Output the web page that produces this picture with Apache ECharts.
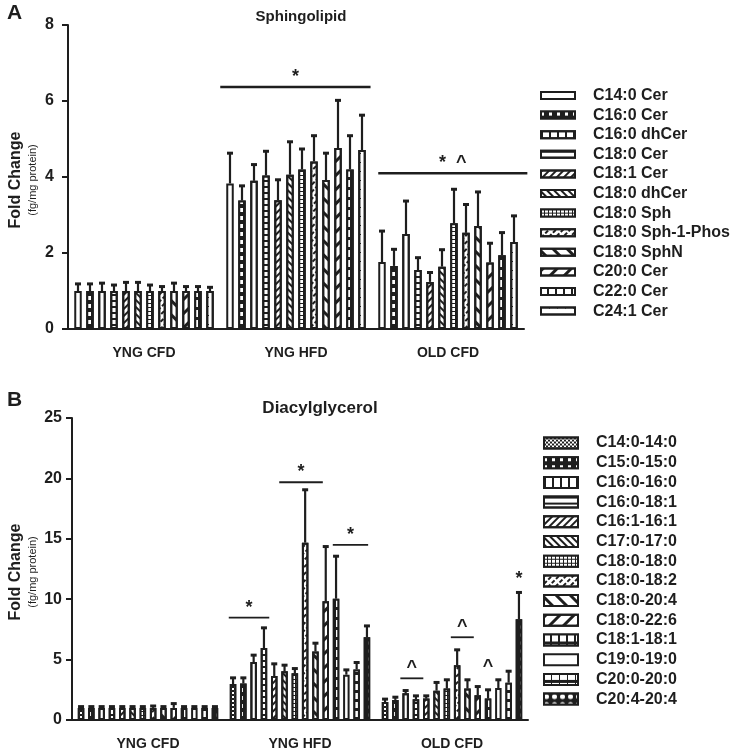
<!DOCTYPE html>
<html>
<head>
<meta charset="utf-8">
<script src="https://cdn.jsdelivr.net/npm/echarts@6/dist/echarts.min.js"></script>
<style>
  html, body { margin: 0; padding: 0; background: #fff; }
  #chart { width: 734px; height: 753px; }
</style>
</head>
<body>
<div id="chart"></div>
<script>
// groups on the x axis
const groups = ['YNG CFD', 'YNG HFD', 'OLD CFD'];

// panel A - sphingolipids
const sphNames = ['C14:0 Cer', 'C16:0 Cer', 'C16:0 dhCer', 'C18:0 Cer', 'C18:1 Cer', 'C18:0 dhCer',
  'C18:0 Sph', 'C18:0 Sph-1-Phos', 'C18:0 SphN', 'C20:0 Cer', 'C22:0 Cer', 'C24:1 Cer'];
const sphPatterns = ['plain', 'boxes', 'vline', 'ladder', 'diagR', 'diagL',
  'grid', 'dashR', 'wideL', 'wideR', 'bigBoxes', 'dots'];
const aCfdMean = [1, 1, 1, 1, 1, 1, 1, 1, 1, 1, 1, 1];
const aCfdErr = [0.20, 0.20, 0.22, 0.17, 0.24, 0.24, 0.17, 0.13, 0.22, 0.13, 0.13, 0.11];
const aHfdMean = [3.83, 3.38, 3.90, 4.04, 3.39, 4.06, 4.20, 4.41, 3.92, 4.76, 4.20, 4.71];
const aHfdErr = [0.81, 0.40, 0.44, 0.65, 0.55, 0.88, 0.55, 0.69, 0.72, 1.27, 0.90, 0.93];
const aOldMean = [1.76, 1.66, 2.50, 1.55, 1.24, 1.64, 2.78, 2.53, 2.71, 1.75, 1.94, 2.29];
const aOldErr = [0.83, 0.45, 0.88, 0.34, 0.26, 0.46, 0.91, 0.76, 0.91, 0.52, 0.61, 0.70];
// [group, from bar, to bar, y, has line]
const aSig = [[1, -0.5, 11.4, 6.37, 1], [2, 0, 11.8, 4.10, 1]];
const aSigText = ['*', '*  ^'];

// panel B - diacylglycerols
const dagNames = ['C14:0-14:0', 'C15:0-15:0', 'C16:0-16:0', 'C16:0-18:1', 'C16:1-16:1', 'C17:0-17:0',
  'C18:0-18:0', 'C18:0-18:2', 'C18:0-20:4', 'C18:0-22:6', 'C18:1-18:1', 'C19:0-19:0', 'C20:0-20:0', 'C20:4-20:4'];
const dagPatterns = ['checker', 'boxes', 'vline', 'ladder', 'diagR', 'diagL',
  'grid', 'dashR', 'wideL', 'wideR', 'bigBoxes', 'plain', 'bigBoxes2', 'diamonds'];
const bCfdMean = [1, 1, 1, 1, 1, 1, 1, 1, 1, 1, 1, 1, 1, 1];
const bCfdErr = [0.15, 0.15, 0.15, 0.15, 0.15, 0.15, 0.15, 0.2, 0.15, 0.4, 0.15, 0.15, 0.15, 0.15];
const bHfdMean = [2.98, 3.03, 4.80, 5.96, 3.64, 4.03, 3.86, 14.68, 5.68, 9.82, 10.04, 3.75, 4.19, 6.84];
const bHfdErr = [0.55, 0.50, 0.61, 1.71, 1.05, 0.55, 0.44, 4.42, 0.72, 4.58, 3.56, 0.44, 0.61, 0.99];
const bOldMean = [1.49, 1.66, 2.21, 1.71, 1.77, 2.43, 2.60, 4.53, 2.60, 2.04, 1.77, 2.65, 3.09, 8.34];
const bOldErr = [0.28, 0.27, 0.27, 0.33, 0.27, 0.72, 0.77, 1.32, 0.77, 0.77, 0.77, 0.72, 0.99, 2.26];
const bSig = [[1, -0.1, 3.2, 8.47, 1], [1, 4.8, 8.4, 19.68, 1], [1, 10, 12.8, 14.49, 1],
  [2, 1.8, 3.4, 3.45, 1], [2, 6.7, 8.3, 6.85, 1], [2, 10, 10, 4.3, 0], [2, 13, 13, 11.6, 0]];
const bSigText = ['*', '*', '*', '^', '^', '^', '*'];

const INK = '#1e1e1e';
const FONT = 'Liberation Sans, Arial, sans-serif';

// fill patterns (bar colour + decal)
const patterns = {
  plain: { color: '#fff' },
  boxes: { color: INK, decal: { color: '#fff', dashArrayX: [[3, 5]], dashArrayY: [4, 4] } },
  vline: { color: '#fff', decal: { color: INK, dashArrayX: [[2, 6]], dashArrayY: [1, 0] } },
  ladder: { color: '#fff', decal: { color: INK, dashArrayX: [[1, 0]], dashArrayY: [2, 4] } },
  diagR: { color: '#fff', decal: { color: INK, dashArrayX: [[1, 0]], dashArrayY: [2, 3], rotation: -Math.PI / 4 } },
  diagL: { color: '#fff', decal: { color: INK, dashArrayX: [[1, 0]], dashArrayY: [2, 3], rotation: Math.PI / 4 } },
  grid: { color: INK, decal: { color: '#fff', dashArrayX: [[3, 1]], dashArrayY: [3, 1] } },
  dashR: { color: '#fff', decal: { color: INK, dashArrayX: [[4, 2]], dashArrayY: [2, 3], rotation: -Math.PI / 4 } },
  wideL: { color: '#fff', decal: { color: INK, dashArrayX: [[1, 0]], dashArrayY: [3, 7], rotation: Math.PI / 4 } },
  wideR: { color: '#fff', decal: { color: INK, dashArrayX: [[1, 0]], dashArrayY: [3, 7], rotation: -Math.PI / 4 } },
  bigBoxes: { color: INK, decal: { color: '#fff', dashArrayX: [[6, 2]], dashArrayY: [7, 3] } },
  bigBoxes2: { color: INK, decal: { color: '#fff', dashArrayX: [[7, 1]], dashArrayY: [6, 3] } },
  dots: { color: '#fff', decal: { color: INK, dashArrayX: [[1, 7]], dashArrayY: [1, 8] } },
  checker: { color: '#fff', decal: { color: INK, dashArrayX: [[2, 2], [0, 2, 2, 0]], dashArrayY: [2, 0] } },
  diamonds: { color: INK, decal: { color: '#fff', symbol: 'circle', dashArrayX: [[5, 3]], dashArrayY: [6, 2] } }
};

const panelA = { names: sphNames, pats: sphPatterns, means: [aCfdMean, aHfdMean, aOldMean],
  errs: [aCfdErr, aHfdErr, aOldErr], sig: aSig, sigText: aSigText, barWidth: 7.5, pitch: 12, idx: 0 };
const panelB = { names: dagNames, pats: dagPatterns, means: [bCfdMean, bHfdMean, bOldMean],
  errs: [bCfdErr, bHfdErr, bOldErr], sig: bSig, sigText: bSigText, barWidth: 6.5, pitch: 10.3, idx: 1 };

function barOffset(panel, i) {
  return (i - (panel.names.length - 1) / 2) * panel.pitch;
}

function buildSeries(panel) {
  const out = [];
  const gap = (panel.pitch - panel.barWidth) / panel.barWidth;
  panel.names.forEach((name, i) => {
    const p = patterns[panel.pats[i]];
    out.push({
      name: name,
      type: 'bar',
      xAxisIndex: panel.idx,
      yAxisIndex: panel.idx,
      barWidth: panel.barWidth,
      barGap: (gap * 100) + '%',
      data: panel.means.map(m => m[i]),
      itemStyle: { color: p.color, borderColor: INK, borderWidth: 2, decal: p.decal || null },
      emphasis: { disabled: true },
      z: 2
    });
  });
  // error bars (upper only)
  const errData = [];
  panel.names.forEach((name, i) => {
    panel.means.forEach((m, g) => errData.push([g, m[i], panel.errs[g][i], i]));
  });
  out.push({
    type: 'custom',
    xAxisIndex: panel.idx,
    yAxisIndex: panel.idx,
    data: errData,
    encode: { x: 0, y: 1 },
    z: 5,
    renderItem: (params, api) => {
      const g = api.value(0), m = api.value(1), e = api.value(2), i = api.value(3);
      const base = api.coord([g, m]);
      const top = api.coord([g, m + e]);
      const x = base[0] + barOffset(panel, i);
      return {
        type: 'group',
        children: [
          { type: 'line', shape: { x1: x, y1: base[1], x2: x, y2: top[1] }, style: { stroke: INK, lineWidth: 2.2 } },
          { type: 'line', shape: { x1: x - 3, y1: top[1] + 0.5, x2: x + 3, y2: top[1] + 0.5 }, style: { stroke: INK, lineWidth: 3 } }
        ]
      };
    }
  });
  // significance markers
  out.push({
    type: 'custom',
    xAxisIndex: panel.idx,
    yAxisIndex: panel.idx,
    data: panel.sig,
    encode: { x: 0, y: 3 },
    z: 6,
    renderItem: (params, api) => {
      const g = api.value(0), a = api.value(1), b = api.value(2), y = api.value(3), hasLine = api.value(4);
      const c = api.coord([g, y]);
      const x1 = c[0] + barOffset(panel, a) - panel.barWidth / 2;
      const x2 = c[0] + barOffset(panel, b) + panel.barWidth / 2;
      const txt = panel.sigText[params.dataIndex];
      const children = [{
        type: 'text',
        style: { x: (x1 + x2) / 2, y: hasLine ? c[1] - 1 : c[1] + 8, text: txt, fill: INK,
          font: 'bold 18px ' + FONT, textAlign: 'center', textVerticalAlign: 'bottom' }
      }];
      if (hasLine) {
        children.push({ type: 'line', shape: { x1: x1, y1: c[1], x2: x2, y2: c[1] },
          style: { stroke: INK, lineWidth: panel.idx === 0 ? 2.5 : 1.8 } });
      }
      return { type: 'group', children: children };
    }
  });
  return out;
}

function xAxisFor(idx) {
  return {
    type: 'category', gridIndex: idx, data: groups,
    axisLine: { lineStyle: { color: INK, width: 2 } },
    axisTick: { alignWithLabel: true, length: 7, lineStyle: { color: INK, width: 2 } },
    axisLabel: { color: INK, fontWeight: 'bold', fontSize: 14, fontFamily: FONT, margin: 17 }
  };
}
function yAxisFor(idx, max, interval, margin) {
  return {
    type: 'value', gridIndex: idx, min: 0, max: max, interval: interval,
    axisLine: { show: true, lineStyle: { color: INK, width: 2 } },
    axisTick: { show: true, length: 6, lineStyle: { color: INK, width: 2 } },
    axisLabel: { color: INK, fontWeight: 'bold', fontSize: 16, fontFamily: FONT, margin: margin },
    splitLine: { show: false }
  };
}
function legendFor(panel, top, left, itemHeight, fontSize, lineHeight, gap) {
  return {
    orient: 'vertical', left: left, top: top, padding: 0,
    data: panel.names, icon: 'rect',
    itemWidth: 34, itemHeight: itemHeight, itemGap: gap,
    selectedMode: false,
    itemStyle: { borderWidth: 2, borderColor: INK },
    formatter: name => '{gap|}{t|' + name + '}',
    textStyle: {
      color: INK, lineHeight: lineHeight, fontSize: fontSize,
      rich: {
        gap: { width: 13, lineHeight: lineHeight, fontSize: fontSize },
        t: { fontWeight: 'bold', fontSize: fontSize, fontFamily: FONT, color: INK, lineHeight: lineHeight }
      }
    }
  };
}

const chart = echarts.init(document.getElementById('chart'), null, { renderer: 'canvas' });
chart.setOption({
  animation: false,
  backgroundColor: '#fff',
  textStyle: { fontFamily: FONT },
  title: [
    { text: 'Sphingolipid', left: 296, top: 4, textAlign: 'center',
      textStyle: { fontSize: 15, fontWeight: 'bold', color: INK, fontFamily: FONT } },
    { text: 'Diacylglycerol', left: 315, top: 395, textAlign: 'center',
      textStyle: { fontSize: 17, fontWeight: 'bold', color: INK, fontFamily: FONT } }
  ],
  grid: [
    { left: 68, top: 25, width: 456, height: 304 },
    { left: 72, top: 418, width: 456, height: 302 }
  ],
  xAxis: [xAxisFor(0), xAxisFor(1)],
  yAxis: [yAxisFor(0, 8, 2, 14), yAxisFor(1, 25, 5, 10)],
  legend: [
    legendFor(panelA, 87.5, 540, 7, 16, 16, 3.6),
    legendFor(panelB, 435, 543, 11, 16, 16, 3.7)
  ],
  graphic: [
    { type: 'text', left: 7, top: 3, style: { text: 'A', font: 'bold 21px ' + FONT, fill: INK } },
    { type: 'text', left: 7, top: 390, style: { text: 'B', font: 'bold 21px ' + FONT, fill: INK } },
    { type: 'text', x: 16, y: 180, rotation: Math.PI / 2,
      style: { text: 'Fold Change', font: 'bold 16px ' + FONT, fill: INK, textAlign: 'center', textVerticalAlign: 'middle' } },
    { type: 'text', x: 33, y: 180, rotation: Math.PI / 2,
      style: { text: '(fg/mg protein)', font: '11px ' + FONT, fill: INK, textAlign: 'center', textVerticalAlign: 'middle' } },
    { type: 'text', x: 16, y: 572, rotation: Math.PI / 2,
      style: { text: 'Fold Change', font: 'bold 16px ' + FONT, fill: INK, textAlign: 'center', textVerticalAlign: 'middle' } },
    { type: 'text', x: 33, y: 572, rotation: Math.PI / 2,
      style: { text: '(fg/mg protein)', font: '11px ' + FONT, fill: INK, textAlign: 'center', textVerticalAlign: 'middle' } }
  ],
  series: buildSeries(panelA).concat(buildSeries(panelB))
});
</script>
</body>
</html>
